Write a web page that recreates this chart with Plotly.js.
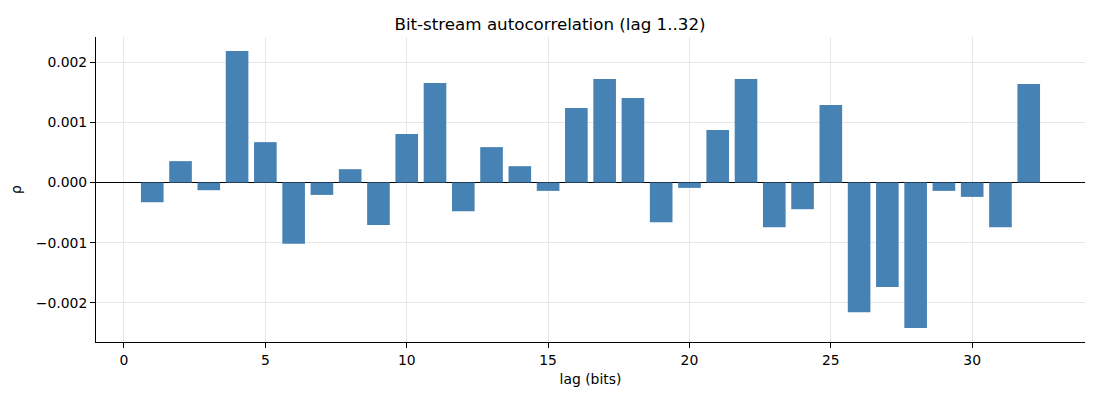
<!DOCTYPE html>
<html>
<head>
<meta charset="utf-8">
<script src="https://cdn.plot.ly/plotly-3.0.1.min.js"></script>
<style>
  html, body { margin: 0; padding: 0; background: #fff; }
  #chart { width: 1100px; height: 400px; }
</style>
</head>
<body>
<div id="chart"></div>
<script>
// lags 1..32 and their autocorrelation
const lags = [
  1, 2, 3, 4, 5, 6, 7, 8, 9, 10, 11, 12, 13, 14, 15, 16,
  17, 18, 19, 20, 21, 22, 23, 24, 25, 26, 27, 28, 29, 30, 31, 32,
];
const rho = [
  -0.000328, 0.000356, -0.000128, 0.00219, 0.000672, -0.00102, -0.000206, 0.000222,
  -0.000706, 0.000806, 0.001656, -0.000478, 0.000589, 0.000272, -0.000139, 0.001239,
  0.001722, 0.001406, -0.000661, -0.000089, 0.000872, 0.001722, -0.000744, -0.000444,
  0.001289, -0.002156, -0.001739, -0.002422, -0.000139, -0.000239, -0.000744, 0.001639,
];
const xTicks = [0, 5, 10, 15, 20, 25, 30];
const yTicks = [-0.002, -0.001, 0, 0.001, 0.002];

const font = { family: "DejaVu Sans, sans-serif", size: 13.9, color: "#000" };

const trace = {
  type: "bar",
  x: lags,
  y: rho,
  width: 0.8,
  marker: { color: "#4682b4", line: { width: 0 } },
  hoverinfo: "x+y",
};

const layout = {
  width: 1100,
  height: 400,
  margin: { l: 96, r: 15, t: 37, b: 58 },
  paper_bgcolor: "#fff",
  plot_bgcolor: "#fff",
  font: font,
  showlegend: false,
  title: {
    text: "Bit-stream autocorrelation (lag 1..32)",
    font: { family: font.family, size: 16.7, color: "#000" },
    x: 0.5,
    xanchor: "center",
    y: 0.94,
    yanchor: "middle",
  },
  xaxis: {
    range: [-0.99, 33.99],
    tickvals: xTicks,
    ticktext: xTicks.map(String),
    ticks: "outside",
    ticklen: 5,
    tickcolor: "#000",
    showline: true,
    linecolor: "#000",
    linewidth: 1,
    showgrid: true,
    gridcolor: "#e6e6e6",
    zeroline: false,
    title: { text: "lag (bits)", font: font, standoff: 7 },
  },
  yaxis: {
    range: [-0.002653, 0.002421],
    tickvals: yTicks,
    tickformat: ".3f",
    ticks: "outside",
    ticklen: 5,
    tickcolor: "#000",
    showline: true,
    linecolor: "#000",
    linewidth: 1,
    showgrid: true,
    gridcolor: "#e6e6e6",
    zeroline: true,
    zerolinecolor: "#000",
    zerolinewidth: 1,
    title: { text: "ρ", font: font, standoff: 10 },
  },
};

Plotly.newPlot("chart", [trace], layout, { displayModeBar: false, staticPlot: true });
</script>
</body>
</html>
